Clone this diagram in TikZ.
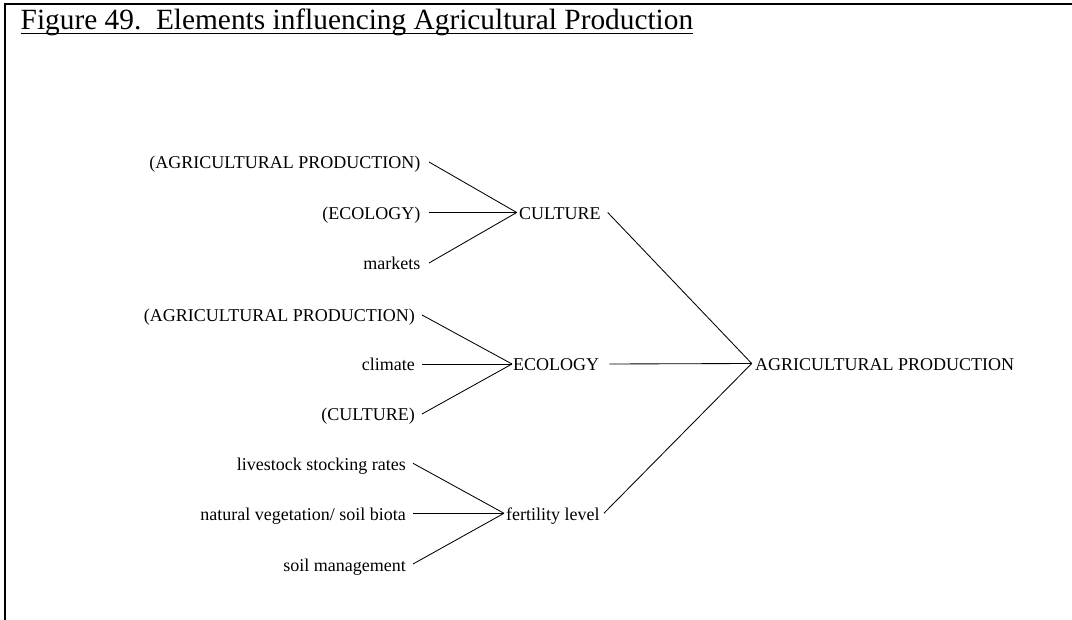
\documentclass[tikz,border=0pt]{standalone}
\usepackage{fontspec}
\setmainfont{Liberation Serif}
\begin{document}
\begin{tikzpicture}[x=1pt,y=-1pt,
  lab/.style={inner xsep=0pt,inner ysep=0pt,text height=16pt,text depth=2pt,font=\fontsize{18}{20}\selectfont},
  lft/.style={lab,anchor=east},
  mid/.style={lab,anchor=west},
  conn/.style={line width=0.85pt}]
\useasboundingbox[fill=white] (0,0) rectangle (1072,620);
% frame
\draw[line width=2pt] (5,620) -- (5,4) -- (1072,4);
% title
\node[anchor=base west,inner sep=0pt,font=\fontsize{29.35}{32}\selectfont] (title) at (20.5,30) {Figure 49.\ \ Elements influencing Agricultural Production};
\draw[line width=1.6pt] ([yshift=-3.5pt]title.base west) -- ([yshift=-3.5pt]title.base east);
% culture group
\node[lft] (cA) at (420.5,162) {(AGRICULTURAL PRODUCTION)};
\node[lft] (cB) at (420.5,212.5) {(ECOLOGY)};
\node[lft] (cC) at (420.5,263) {markets};
\node[mid] (cul) at (519,212.5) {CULTURE};
% ecology group
\node[lft] (eA) at (415,315) {(AGRICULTURAL PRODUCTION)};
\node[lft] (eB) at (415,364) {climate};
\node[lft] (eC) at (415,414) {(CULTURE)};
\node[mid] (eco) at (513,364) {ECOLOGY};
% fertility group
\node[lft] (fA) at (406,463.3) {livestock stocking rates};
\node[lft] (fB) at (406,513.3) {natural vegetation/ soil biota};
\node[lft] (fC) at (406,564) {soil management};
\node[mid] (fer) at (506,513.3) {fertility level};
% result
\node[mid] (agr) at (755,363.5) {AGRICULTURAL PRODUCTION};
% connectors
\foreach \n in {cA,cB,cC}
  \draw[conn] ([xshift=8.5pt]\n.east) -- ([xshift=-2.3pt]cul.west);
\foreach \n in {eA,eB,eC}
  \draw[conn] ([xshift=7pt]\n.east) -- ([xshift=-1pt]eco.west);
\foreach \n in {fA,fB,fC}
  \draw[conn] ([xshift=7pt]\n.east) -- ([xshift=-2pt]fer.west);
\draw[conn] ([xshift=7pt]cul.east) -- ([xshift=-3.3pt]agr.west);
\draw[conn] ([xshift=10pt]eco.east) -- ([xshift=-3.3pt]agr.west);
\draw[conn] ([xshift=4pt]fer.east) -- ([xshift=-3.3pt]agr.west);
\end{tikzpicture}
\end{document}
